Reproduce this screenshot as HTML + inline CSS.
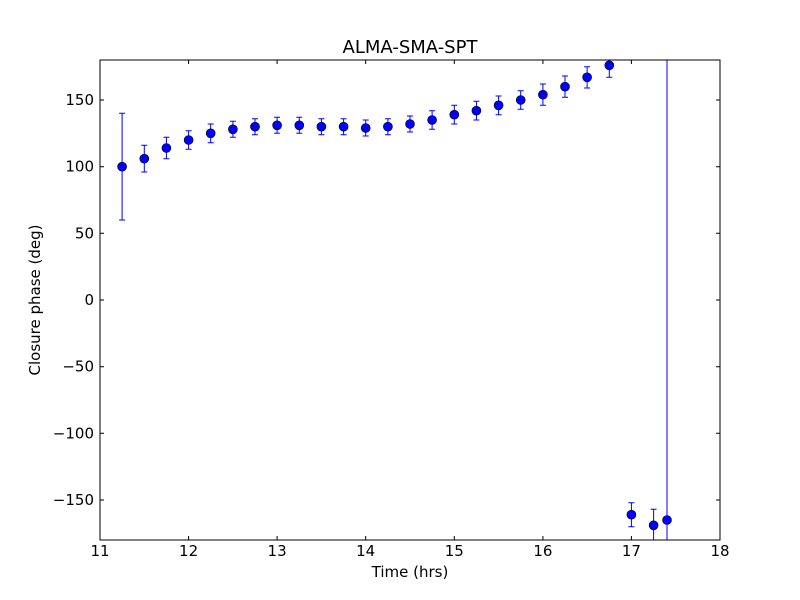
<!DOCTYPE html>
<html><head><meta charset="utf-8"><style>
html,body{margin:0;padding:0;background:#fff;}
svg{display:block;font-family:"DejaVu Sans","Liberation Sans",sans-serif;}
</style></head><body>
<svg width="800" height="600" viewBox="0 0 800 600" xmlns="http://www.w3.org/2000/svg">
<rect width="800" height="600" fill="#fff"/>
<defs><clipPath id="c"><rect x="100" y="60" width="620" height="480"/></clipPath></defs>
<g clip-path="url(#c)" stroke="#0000ff" stroke-width="1" fill="none">
<path d="
M122.1,113.3V220M119.1,113.3h6M119.1,220h6
M144.3,145.3V172M141.3,145.3h6M141.3,172h6
M166.4,137.3V158.7M163.4,137.3h6M163.4,158.7h6
M188.6,130.7V149.3M185.6,130.7h6M185.6,149.3h6
M210.7,124V142.7M207.7,124h6M207.7,142.7h6
M232.9,121.3V137.3M229.9,121.3h6M229.9,137.3h6
M255,118.7V134.7M252,118.7h6M252,134.7h6
M277.1,117.3V133.3M274.1,117.3h6M274.1,133.3h6
M299.3,117.3V133.3M296.3,117.3h6M296.3,133.3h6
M321.4,118.7V134.7M318.4,118.7h6M318.4,134.7h6
M343.6,118.7V134.7M340.6,118.7h6M340.6,134.7h6
M365.7,120V136M362.7,120h6M362.7,136h6
M387.9,118.7V134.7M384.9,118.7h6M384.9,134.7h6
M410,116V132M407,116h6M407,132h6
M432.1,110.7V129.3M429.1,110.7h6M429.1,129.3h6
M454.3,105.3V124M451.3,105.3h6M451.3,124h6
M476.4,101.3V120M473.4,101.3h6M473.4,120h6
M498.6,96V114.7M495.6,96h6M495.6,114.7h6
M520.7,90.7V109.3M517.7,90.7h6M517.7,109.3h6
M542.9,84V105.3M539.9,84h6M539.9,105.3h6
M565,76V97.3M562,76h6M562,97.3h6
M587.1,66.7V88M584.1,66.7h6M584.1,88h6
M609.3,53.3V77.3M606.3,77.3h6
M631.4,502.7V526.7M628.4,502.7h6M628.4,526.7h6
M653.6,509.3V545M650.6,509.3h6
M667,50V550
"/>
</g>
<g clip-path="url(#c)" fill="#0000ff" stroke="#000" stroke-width="0.6">
<circle cx="122.1" cy="166.7" r="4.5"/><circle cx="144.3" cy="158.7" r="4.5"/>
<circle cx="166.4" cy="148" r="4.5"/><circle cx="188.6" cy="140" r="4.5"/>
<circle cx="210.7" cy="133.3" r="4.5"/><circle cx="232.9" cy="129.3" r="4.5"/>
<circle cx="255" cy="126.7" r="4.5"/><circle cx="277.1" cy="125.3" r="4.5"/>
<circle cx="299.3" cy="125.3" r="4.5"/><circle cx="321.4" cy="126.7" r="4.5"/>
<circle cx="343.6" cy="126.7" r="4.5"/><circle cx="365.7" cy="128" r="4.5"/>
<circle cx="387.9" cy="126.7" r="4.5"/><circle cx="410" cy="124" r="4.5"/>
<circle cx="432.1" cy="120" r="4.5"/><circle cx="454.3" cy="114.7" r="4.5"/>
<circle cx="476.4" cy="110.7" r="4.5"/><circle cx="498.6" cy="105.3" r="4.5"/>
<circle cx="520.7" cy="100" r="4.5"/><circle cx="542.9" cy="94.7" r="4.5"/>
<circle cx="565" cy="86.7" r="4.5"/><circle cx="587.1" cy="77.3" r="4.5"/>
<circle cx="609.3" cy="65.3" r="4.5"/><circle cx="631.4" cy="514.7" r="4.5"/>
<circle cx="653.6" cy="525.3" r="4.5"/><circle cx="667" cy="520" r="4.5"/>
</g>
<rect x="100" y="60" width="620" height="480" fill="none" stroke="#000" stroke-width="1"/>
<g stroke="#000" stroke-width="1">
<path d="M188.6,540v-4M188.6,60v4M277.1,540v-4M277.1,60v4M365.7,540v-4M365.7,60v4M454.3,540v-4M454.3,60v4M542.9,540v-4M542.9,60v4M631.4,540v-4M631.4,60v4
M100,100h4M720,100h-4M100,166.7h4M720,166.7h-4M100,233.3h4M720,233.3h-4M100,300h4M720,300h-4M100,366.7h4M720,366.7h-4M100,433.3h4M720,433.3h-4M100,500h4M720,500h-4"/>
</g>
<g font-size="15" fill="#000" text-anchor="middle">
<text x="100" y="556">11</text><text x="188.6" y="556">12</text><text x="277.1" y="556">13</text>
<text x="365.7" y="556">14</text><text x="454.3" y="556">15</text><text x="542.9" y="556">16</text>
<text x="631.4" y="556">17</text><text x="720" y="556">18</text>
</g>
<g font-size="15" fill="#000" text-anchor="end">
<text x="94" y="105">150</text><text x="94" y="171.7">100</text><text x="94" y="238.3">50</text>
<text x="94" y="305">0</text><text x="94" y="371.7">−50</text><text x="94" y="438.3">−100</text>
<text x="94" y="505">−150</text>
</g>
<text x="410" y="577" font-size="15" text-anchor="middle">Time (hrs)</text>
<text x="40" y="300" font-size="15" text-anchor="middle" transform="rotate(-90 40 300)">Closure phase (deg)</text>
<text x="410" y="53" font-size="18" text-anchor="middle">ALMA-SMA-SPT</text>
</svg>
</body></html>
